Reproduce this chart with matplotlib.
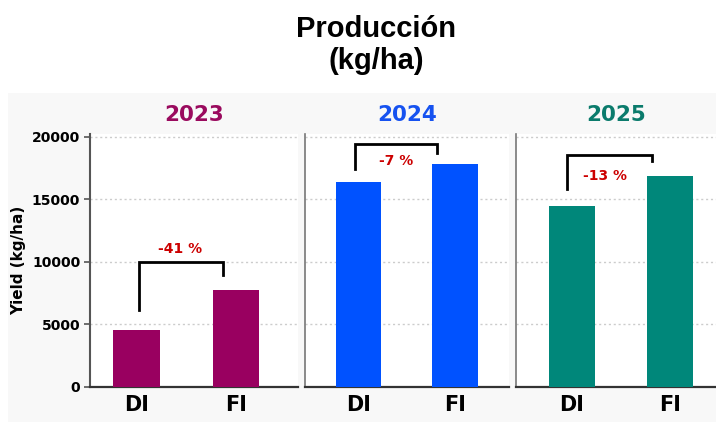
import matplotlib
matplotlib.use("Agg")
import matplotlib.pyplot as plt
import matplotlib.patches as mpatches

# data
years = ["2023", "2024", "2025"]
treatments = ["DI", "FI"]
di_yield = [4540, 16400, 14430]
fi_yield = [7740, 17790, 16830]
reductions = ["-41 %", "-7 %", "-13 %"]
yticks = [0, 5000, 10000, 15000, 20000]

year_colors = ["#9a0a5e", "#1652f0", "#0b7b6c"]
bar_colors = ["#990060", "#0052ff", "#00877a"]

# layout per panel: axes rect (pixels), xlim
W, H = 716, 422
panel_px = [(90, 298), (305, 509), (516, 716)]
xlims = [(-0.47, 1.624), (-0.558, 1.56), (-0.571, 1.469)]
# bracket: x_left, x_right, top, left leg end, right leg end, label x, label y
brackets = [
    (0.02, 0.866, 10000, 6130, 8930, 0.436, 11000),
    (-0.04, 0.81, 19420, 17390, 18670, 0.384, 18040),
    (-0.054, 0.813, 18540, 15820, 18060, 0.34, 16860),
]

fig = plt.figure(figsize=(W / 100, H / 100), dpi=100)
fig.add_artist(mpatches.Rectangle((8 / W, 0), 1 - 8 / W, 1 - 93 / H,
                                  transform=fig.transFigure,
                                  facecolor="#f8f8f8", edgecolor="none", zorder=-5))

y0_px, ytop = 386.7, 20200
ax_h = ytop / 20000 * 250

for i in range(3):
    x0, x1 = panel_px[i]
    ax = fig.add_axes([x0 / W, (H - y0_px) / H, (x1 - x0) / W, ax_h / H])
    ax.set_facecolor("white")
    ax.bar([0, 1], [di_yield[i], fi_yield[i]], width=0.47, color=bar_colors[i], zorder=3)
    ax.set_xlim(*xlims[i])
    ax.set_ylim(0, ytop)
    for y in yticks[1:]:
        ax.axhline(y, color="#cccccc", linestyle=(0, (1.5, 2)), linewidth=1, zorder=1)
    ax.set_xticks([0, 1])
    ax.set_xticklabels(treatments, fontsize=15, fontweight="bold")
    ax.tick_params(axis="x", length=0, pad=6)
    for s in ["top", "right"]:
        ax.spines[s].set_visible(False)
    ax.spines["bottom"].set_color("#333333")
    ax.spines["bottom"].set_linewidth(1.6)
    if i == 0:
        ax.set_yticks(yticks)
        ax.set_yticklabels([str(v) for v in yticks], fontsize=10, fontweight="bold")
        ax.tick_params(axis="y", length=4, width=1.2, color="#555555", pad=3)
        ax.spines["left"].set_color("#555555")
        ax.spines["left"].set_linewidth(1.5)
        ax.set_ylabel("Yield (kg/ha)", fontsize=11, fontweight="bold", labelpad=4)
    else:
        ax.set_yticks([])
        ax.spines["left"].set_color("#777777")
        ax.spines["left"].set_linewidth(1.2)
    ax.text(0.5, 1.075, years[i], transform=ax.transAxes, ha="center", va="center",
            fontsize=15.5, fontweight="bold", color=year_colors[i])

    xl, xr, top, ll, rl, lx, ly = brackets[i]
    ax.plot([xl, xl, xr, xr], [ll, top, top, rl], color="black", linewidth=2,
            solid_joinstyle="miter", zorder=4)
    ax.text(lx, ly, reductions[i], ha="center", va="center", fontsize=10,
            fontweight="bold", color="#cc0000", zorder=5,
            bbox=dict(facecolor="white", edgecolor="none", pad=2.5))

fig.text(376 / W, 1 - 45 / H, "Producción\n(kg/ha)", ha="center", va="center",
         fontsize=21, fontweight="bold", family="Liberation Sans", linespacing=1.15)

plt.savefig("out.png", dpi=100)
